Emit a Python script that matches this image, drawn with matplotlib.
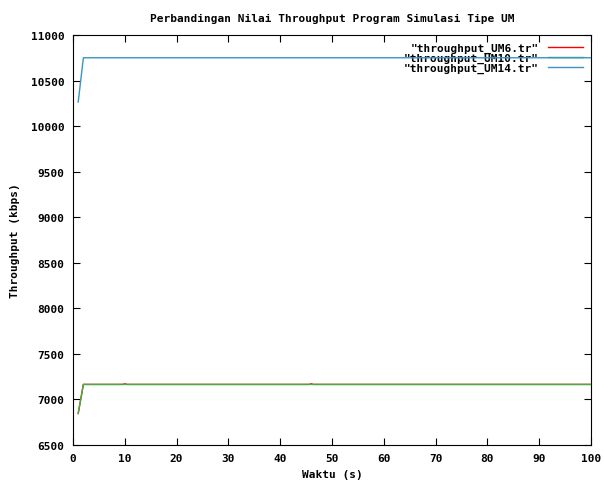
import matplotlib.pyplot as plt

# waktu (s) and throughput (kbps)
t_um6 = [1, 2, 9.6, 10, 10.4, 45.6, 46, 46.4, 100]
thr_um6 = [6846, 7165, 7165, 7172, 7165, 7165, 7172, 7165, 7165]

t_um10 = [1, 2, 100]
thr_um10 = [6846, 7165, 7165]

t_um14 = [1, 2, 100]
thr_um14 = [10264, 10750, 10750]

xticks = list(range(0, 101, 10))
yticks = list(range(6500, 11001, 500))

plt.rcParams['font.family'] = ['DejaVu Sans Mono']
plt.rcParams['font.weight'] = 'bold'

fig = plt.figure(figsize=(6.04, 4.85), dpi=100)
ax = fig.add_axes([0.1209, 0.0804, 0.8576, 0.8454])

ax.plot(t_um6, thr_um6, color='#ff0000', lw=1, label='"throughput_UM6.tr"', zorder=3)
ax.plot(t_um10, thr_um10, color='#3cb043', lw=1, label='"throughput_UM10.tr"', zorder=4)
ax.plot(t_um14, thr_um14, color='#3a93c4', lw=1, label='"throughput_UM14.tr"', zorder=5)

ax.set_xlim(0, 100)
ax.set_ylim(6500, 11000)
ax.set_xticks(xticks)
ax.set_yticks(yticks)
ax.tick_params(direction='in', length=5, width=0.8, top=True, right=True,
               labelsize=8, pad=6)
for lab in ax.get_xticklabels() + ax.get_yticklabels():
    lab.set_fontweight('bold')

ax.set_title('Perbandingan Nilai Throughput Program Simulasi Tipe UM',
             fontsize=8, fontweight='bold', pad=10)
ax.set_xlabel('Waktu (s)', fontsize=8, fontweight='bold', labelpad=4)
ax.set_ylabel('Throughput (kbps)', fontsize=8, fontweight='bold', labelpad=8)

leg = ax.legend(loc='upper right', frameon=False, markerfirst=False,
                labelspacing=0.0, handlelength=3.2, borderaxespad=0.3,
                prop={'weight': 'bold', 'size': 8})
leg.set_zorder(2)

fig.savefig('out.png', dpi=100)
